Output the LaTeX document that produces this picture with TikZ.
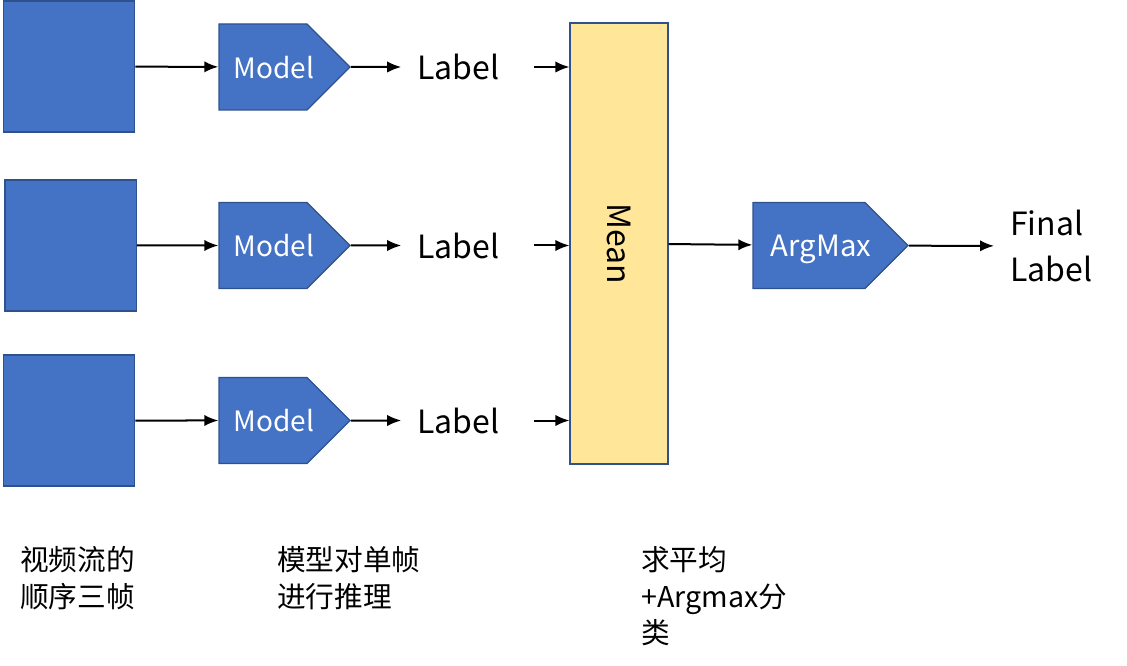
\documentclass[tikz,border=0pt]{standalone}
\usepackage{fontspec}
\setmainfont{Noto Sans CJK SC}
\usetikzlibrary{shapes.symbols, arrows.meta}
\definecolor{boxblue}{HTML}{4472C4}
\definecolor{edgeblue}{HTML}{2F528F}
\definecolor{meanyellow}{HTML}{FFE699}

\begin{document}
\begin{tikzpicture}[x=0.75pt, y=-0.75pt]
        \useasboundingbox (0,0) rectangle (1127,666);
            \tikzset{myframe/.style={rectangle, fill=boxblue, draw=edgeblue, line width=1pt,
                minimum width=98.5pt, minimum height=98.25pt},
                mymodel/.style={signal, signal to=east, signal pointer angle=90, fill=boxblue,
                draw=edgeblue, line width=1pt, text=white, minimum height=64.5pt,
                minimum width=98.25pt, inner xsep=2pt, text depth=0pt, font=\fontsize{21}{24}\selectfont},
                mymean/.style={rectangle, fill=meanyellow, draw=edgeblue, line width=0.8pt,
                minimum width=73.5pt, minimum height=330.75pt, font=\fontsize{24}{28}\selectfont},
                mylabel/.style={inner xsep=12pt, font=\fontsize{24}{34}\selectfont},
                mynote/.style={anchor=north west, inner sep=0pt, align=left,
                font=\fontsize{21.5}{27.5}\selectfont},
                myarrow/.style={line width=1.5pt, arrows=-{Latex[length=10.5pt, width=8.5pt]}}}

        \node[myframe] (F1) at (69,66.5) {};
        \node[myframe] (F2) at (70.5,245.5) {};
        \node[myframe] (F3) at (69,420.5) {};

        \node[mymodel] (P1) at (263,67) {\makebox[0pt]{\kern16.5pt Model}};
        \node[mymodel] (P2) at (263,245.5) {\makebox[0pt]{\kern16.5pt Model}};
        \node[mymodel] (P3) at (263,420.5) {\makebox[0pt]{\kern16.5pt Model}};

        \node[mylabel] (L1) at (458.5,67) {Label};
        \node[mylabel] (L2) at (458.5,245.5) {Label};
        \node[mylabel] (L3) at (458.5,420.5) {Label};

        \node[mymean] (M) at (619,243.5) {\rotatebox{-90}{Mean}};
        \node[mymodel, minimum width=116.25pt, font=\fontsize{22}{26}\selectfont] (A)
            at (809,245.5) {\makebox[0pt]{\kern18pt ArgMax}};
        \node[mylabel, align=left, anchor=west] (FL) at (994,246) {Final\\Label};

        \draw[myarrow] (F1) -- (P1);
        \draw[myarrow] (F2) -- (P2);
        \draw[myarrow] (F3) -- (P3);
        \draw[myarrow] (P1) -- (L1);
        \draw[myarrow] (P2) -- (L2);
        \draw[myarrow] (P3) -- (L3);
        \draw[myarrow, shorten <=13.5pt] (L1) -- (M.west |- L1);
        \draw[myarrow, shorten <=13.5pt] (L2) -- (M.west |- L2);
        \draw[myarrow, shorten <=13.5pt] (L3) -- (M.west |- L3);
        \draw[myarrow] (M) -- (A);
        \draw[myarrow] (A) -- (FL);

        % notes under the columns
        \node[mynote] (N1) at (20,546) {视频流的\\顺序三帧};
        \node[mynote] (N2) at (277,546) {模型对单帧\\进行推理};
        \node[mynote] (N3) at (641,546) {求平均\\+Argmax分\\类};

        \end{tikzpicture}
\end{document}
